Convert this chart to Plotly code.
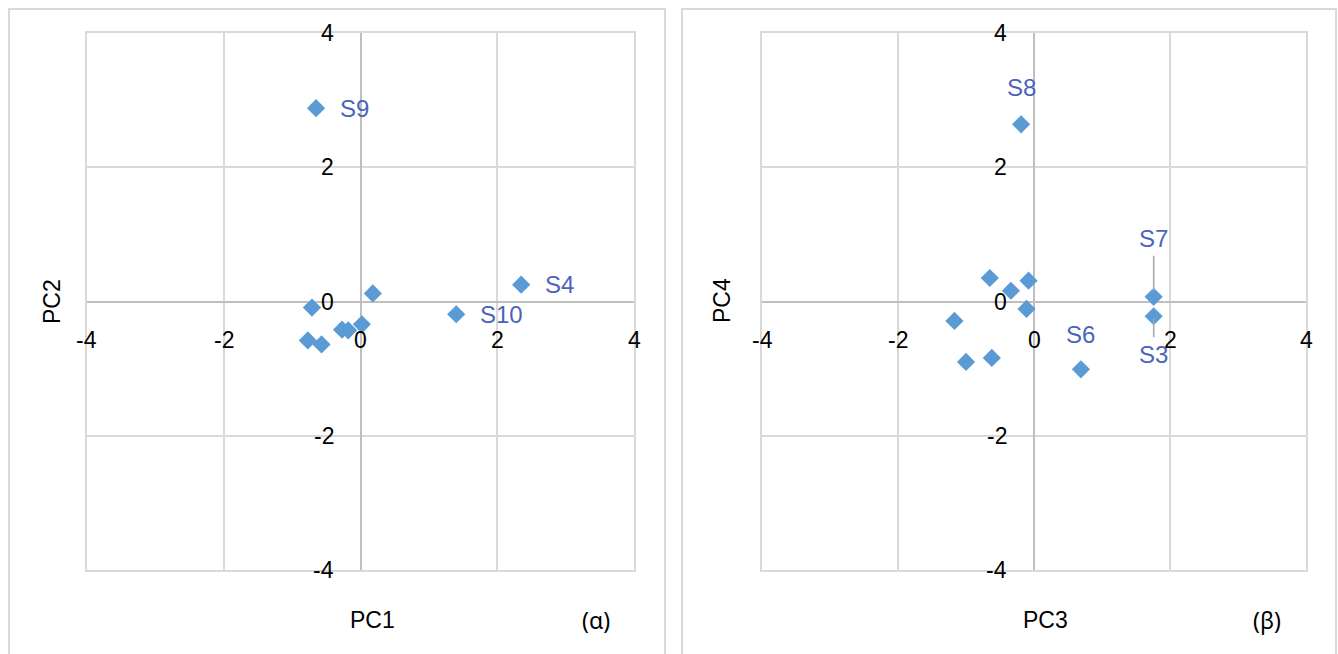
import plotly.graph_objects as go

# Scores on the first four principal components
pc1 = [-0.65, 2.35, 1.40, 0.18, -0.71, -0.77, -0.57, -0.27, -0.18, 0.02]
pc2 = [2.88, 0.25, -0.19, 0.12, -0.09, -0.58, -0.64, -0.42, -0.43, -0.34]
labels_a = ["S9", "S4", "S10", "", "", "", "", "", "", ""]

pc3 = [-0.19, 1.76, 1.76, 0.69, -0.65, -0.08, -0.34, -0.11, -1.17, -1.00, -0.62]
pc4 = [2.64, 0.07, -0.22, -1.01, 0.35, 0.31, 0.16, -0.11, -0.29, -0.90, -0.84]
labels_b = ["S8", "S7", "S3", "S6", "", "", "", "", "", "", ""]

tick_vals = [-4, -2, 0, 2, 4]
tick_text = ["-4", "-2", "0", "2", "4"]

W, H = 1338, 654
MARKER = "#5B9BD5"
LABEL = "#4a64bb"
GRID = "#d9d9d9"
AXIS = "#bfbfbf"
FONT = "Liberation Sans, Arial, sans-serif"
FS = 23
FS_LAB = 24


def px(v):
    return v / W


def py(v):
    return 1 - v / H


fig = go.Figure()
fig.add_trace(go.Scatter(x=pc1, y=pc2, mode="markers", xaxis="x", yaxis="y",
                         marker=dict(symbol="diamond", size=14, color=MARKER),
                         hoverinfo="x+y", showlegend=False))
fig.add_trace(go.Scatter(x=pc3, y=pc4, mode="markers", xaxis="x2", yaxis="y2",
                         marker=dict(symbol="diamond", size=14, color=MARKER),
                         hoverinfo="x+y", showlegend=False))

axis_common = dict(range=[-4, 4], tickvals=tick_vals, showticklabels=False,
                   showgrid=True, gridcolor=GRID, gridwidth=1.5,
                   zeroline=True, zerolinecolor=AXIS, zerolinewidth=1.5,
                   showline=True, linecolor=GRID, linewidth=1.5, mirror=True,
                   ticks="", fixedrange=True)

fig.update_layout(
    width=W, height=H,
    margin=dict(l=0, r=0, t=0, b=0),
    paper_bgcolor="white", plot_bgcolor="white",
    font=dict(family=FONT, size=FS, color="#000000"),
    xaxis=dict(domain=[px(87), px(634)], anchor="y", **axis_common),
    yaxis=dict(domain=[py(570), py(33)], anchor="x", **axis_common),
    xaxis2=dict(domain=[px(762), px(1306)], anchor="y2", **axis_common),
    yaxis2=dict(domain=[py(570), py(33)], anchor="x2", **axis_common),
)

annotations = []

# Tick labels placed beside the axes that cross at zero
for xr, yr in (("x", "y"), ("x2", "y2")):
    for v, t in zip(tick_vals, tick_text):
        annotations.append(dict(x=v, y=0, xref=xr, yref=yr, text=t, showarrow=False,
                                xanchor="center", yanchor="middle", yshift=-38,
                                font=dict(size=FS, color="#000000")))
        annotations.append(dict(x=0, y=v, xref=xr, yref=yr, text=t, showarrow=False,
                                xanchor="right", yanchor="middle", xshift=-25,
                                font=dict(size=FS, color="#000000")))

# Sample labels, panel (α): to the right of the points
for xv, yv, lab in zip(pc1, pc2, labels_a):
    if lab:
        annotations.append(dict(x=xv, y=yv, xref="x", yref="y", text=lab, showarrow=False,
                                xanchor="left", yanchor="middle", xshift=22,
                                font=dict(size=FS_LAB, color=LABEL)))

# Sample labels, panel (β)
offsets_b = {"S8": (0, 37, False), "S7": (0, 58, True), "S3": (0, -38, True), "S6": (0, 35, False)}
for xv, yv, lab in zip(pc3, pc4, labels_b):
    if not lab:
        continue
    dx, dy, leader = offsets_b[lab]
    if leader:
        annotations.append(dict(x=xv, y=yv, xref="x2", yref="y2", text=lab,
                                showarrow=True, arrowhead=0, arrowwidth=1.5,
                                arrowcolor="#a6a6a6", ax=dx, ay=-dy,
                                standoff=6 if dy > 0 else 2, borderpad=3,
                                font=dict(size=FS_LAB, color=LABEL)))
    else:
        annotations.append(dict(x=xv, y=yv, xref="x2", yref="y2", text=lab, showarrow=False,
                                xanchor="center", yanchor="middle", xshift=dx, yshift=dy,
                                font=dict(size=FS_LAB, color=LABEL)))

# Axis titles and panel captions
annotations += [
    dict(x=px(372), y=py(620), xref="paper", yref="paper", text="PC1", showarrow=False,
         xanchor="center", yanchor="middle"),
    dict(x=px(52), y=py(301), xref="paper", yref="paper", text="PC2", showarrow=False,
         xanchor="center", yanchor="middle", textangle=-90),
    dict(x=px(596), y=py(620), xref="paper", yref="paper", text="(α)", showarrow=False,
         xanchor="center", yanchor="middle", font=dict(family="Noto Sans, sans-serif", size=FS)),
    dict(x=px(1045), y=py(620), xref="paper", yref="paper", text="PC3", showarrow=False,
         xanchor="center", yanchor="middle"),
    dict(x=px(722), y=py(301), xref="paper", yref="paper", text="PC4", showarrow=False,
         xanchor="center", yanchor="middle", textangle=-90),
    dict(x=px(1267), y=py(620), xref="paper", yref="paper", text="(β)", showarrow=False,
         xanchor="center", yanchor="middle", font=dict(family="Noto Sans, sans-serif", size=FS)),
]

# Outer frames of the two chart panels
shapes = [
    dict(type="rect", xref="paper", yref="paper", x0=px(9), x1=px(665), y0=py(662), y1=py(9),
         line=dict(color=GRID, width=2), fillcolor="rgba(0,0,0,0)", layer="below"),
    dict(type="rect", xref="paper", yref="paper", x0=px(682), x1=px(1336), y0=py(662), y1=py(9),
         line=dict(color=GRID, width=2), fillcolor="rgba(0,0,0,0)", layer="below"),
]

fig.update_layout(annotations=annotations, shapes=shapes)
fig.write_html("out.html")
